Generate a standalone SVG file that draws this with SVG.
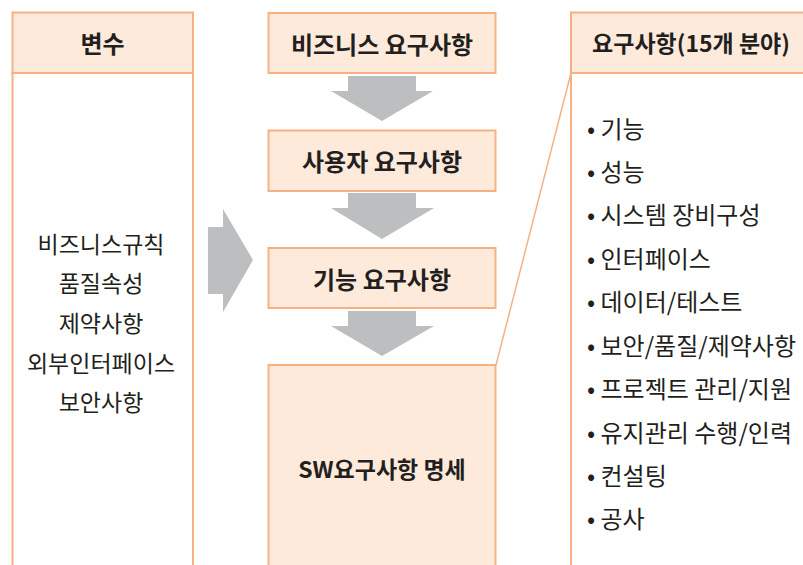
<svg xmlns="http://www.w3.org/2000/svg" width="803" height="565" viewBox="0 0 803 565">
<style>
.box{fill:#fdeadb;stroke:#f6b183;stroke-width:2}
.body{fill:#ffffff;stroke:#f6b183;stroke-width:2}
.line{fill:none;stroke:#f6b183;stroke-width:1.5}
.arrow{fill:#bdbec0}
text{font-family:"Noto Sans CJK KR","Noto Sans",sans-serif;fill:#231f20;dominant-baseline:central}
.h{font-size:24px;font-weight:700;text-anchor:middle}
.t{font-size:23px;font-weight:400}
.r{font-size:24px;font-weight:400}
.c{text-anchor:middle}
</style>
<rect width="803" height="565" fill="#ffffff"/>
<g id="var-column">
<rect class="body" x="12.5" y="73" width="180.5" height="520"/>
<rect class="box" x="12.5" y="12.5" width="180.5" height="60.5"/>
<text class="h" x="102.5" y="42">변수</text>
<text class="t c" x="101" y="243">비즈니스규칙</text>
<text class="t c" x="101" y="282">품질속성</text>
<text class="t c" x="101" y="322">제약사항</text>
<text class="t c" x="101" y="362">외부인터페이스</text>
<text class="t c" x="101" y="401">보안사항</text>
</g>
<g id="req-column">
<rect class="body" x="571" y="73" width="260" height="520"/>
<rect class="box" x="571" y="12.5" width="260" height="60.5"/>
<text class="h" x="691" y="42" style="font-size:23px">요구사항(15개 분야)</text>
<text class="r" x="587" y="127">• 기능</text>
<text class="r" x="587" y="170">• 성능</text>
<text class="r" x="587" y="213">• 시스템 장비구성</text>
<text class="r" x="587" y="257">• 인터페이스</text>
<text class="r" x="587" y="300">• 데이터/테스트</text>
<text class="r" x="587" y="344">• 보안/품질/제약사항</text>
<text class="r" x="587" y="387">• 프로젝트 관리/지원</text>
<text class="r" x="587" y="431">• 유지관리 수행/인력</text>
<text class="r" x="587" y="474">• 컨설팅</text>
<text class="r" x="587" y="517">• 공사</text>
</g>
<g id="business-req">
<rect class="box" x="268.5" y="13" width="227" height="60"/>
<text class="h" x="382" y="43">비즈니스 요구사항</text>
</g>
<g id="user-req">
<rect class="box" x="268.5" y="130.5" width="227" height="60.5"/>
<text class="h" x="382" y="160.5">사용자 요구사항</text>
</g>
<g id="func-req">
<rect class="box" x="268.5" y="248" width="227" height="60"/>
<text class="h" x="382" y="278">기능 요구사항</text>
</g>
<g id="sw-spec">
<rect class="box" x="268.5" y="365" width="227" height="230"/>
<text class="h" x="382" y="468" style="font-size:23px">SW요구사항 명세</text>
</g>
<g id="connectors">
<polygon class="arrow" points="348,76 416,76 416,91 433,91 382,121 331,91 348,91"/>
<polygon class="arrow" points="348,193 416,193 416,208 434,208 382,239 331,208 348,208"/>
<polygon class="arrow" points="348,311 416,311 416,326 434,326 382,356 331,326 348,326"/>
<polygon class="arrow" points="208,227 223,227 223,209 253,260 223,312 223,294 208,294"/>
<line class="line" x1="571" y1="73" x2="496" y2="365"/>
</g>
</svg>
